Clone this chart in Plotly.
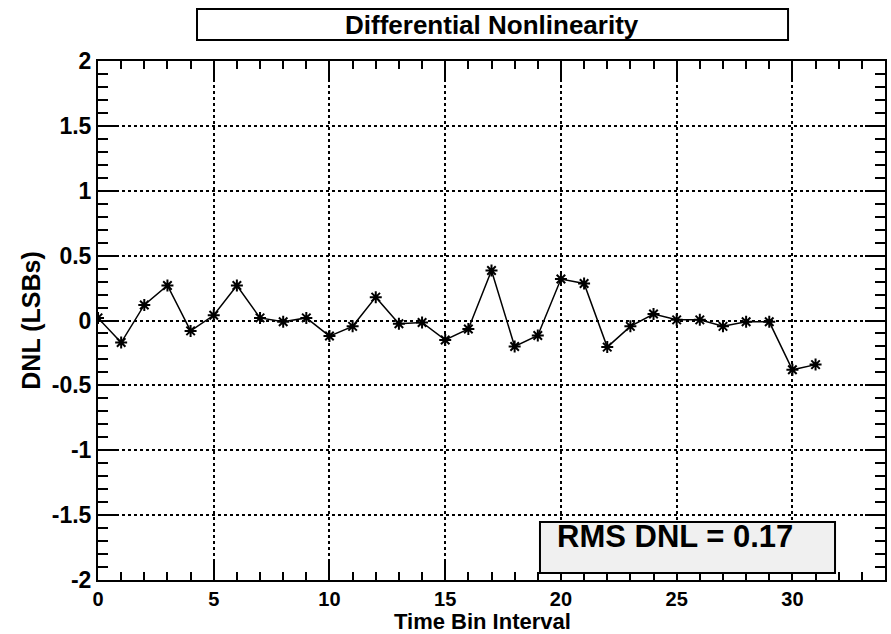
import plotly.graph_objects as go

bins = list(range(32))
dnl = [0.02, -0.17, 0.12, 0.27, -0.08, 0.04, 0.27, 0.02, -0.01, 0.02,
       -0.12, -0.045, 0.18, -0.025, -0.015, -0.15, -0.065, 0.385, -0.20, -0.115,
       0.32, 0.285, -0.205, -0.045, 0.05, 0.005, 0.005, -0.045, -0.01, -0.01,
       -0.38, -0.34]
x_ticks = [0, 5, 10, 15, 20, 25, 30]
y_ticks = [-2, -1.5, -1, -0.5, 0, 0.5, 1, 1.5, 2]
y_tick_labels = ["-2", "-1.5", "-1", "-0.5", "0", "0.5", "1", "1.5", "2"]
title_text = "Differential Nonlinearity"
rms_text = "RMS DNL = 0.17"
x_title = "Time Bin Interval"
y_title = "DNL (LSBs)"

FONT = "Liberation Sans, Arial, sans-serif"
NARROW = "Liberation Sans Narrow, Liberation Sans, Arial, sans-serif"

fig = go.Figure()
fig.add_trace(go.Scatter(
    x=bins, y=dnl, mode="lines+markers",
    line=dict(color="black", width=1.5),
    marker=dict(symbol="asterisk-open", size=10, color="black",
                line=dict(color="black", width=2)),
    showlegend=False,
))

axis_common = dict(
    showline=True, linecolor="black", linewidth=2, mirror="allticks",
    ticks="inside", tickcolor="black", tickwidth=2,
    showgrid=True, gridcolor="black", gridwidth=1.8, griddash="dot",
    zeroline=False, automargin=False,
)

fig.update_xaxes(
    range=[0, 34], tickmode="array", tickvals=x_ticks, ticklen=18,
    tickfont=dict(family=FONT, size=20, color="black", weight="bold"),
    minor=dict(dtick=1, tick0=0, ticklen=8, tickcolor="black", tickwidth=2, ticks="inside", showgrid=False),
    **axis_common,
)
fig.update_yaxes(
    range=[-2, 2], tickmode="array", tickvals=y_ticks, ticktext=y_tick_labels, ticklen=20,
    tickfont=dict(family=FONT, size=23, color="black", weight="bold"),
    minor=dict(dtick=0.1, tick0=0, ticklen=10, tickcolor="black", tickwidth=2, ticks="inside", showgrid=False),
    title=dict(text=y_title, font=dict(family=FONT, size=25, color="black", weight="bold"), standoff=4),
    **axis_common,
)

shapes = [
    dict(type="rect", xref="paper", yref="paper", x0=0.1258, x1=0.8768, y0=1.0405, y1=1.100,
         line=dict(color="black", width=2), fillcolor="white", layer="above"),
    dict(type="rect", xref="paper", yref="paper", x0=0.5616, x1=0.9365, y0=0.0135, y1=0.1118,
         line=dict(color="black", width=2), fillcolor="#f0f0f0", layer="above"),
]
annotations = [
    dict(text=title_text, xref="paper", yref="paper", x=0.5006, y=1.0703,
         xanchor="center", yanchor="middle", showarrow=False,
         font=dict(family=NARROW, size=26, color="black", weight="bold")),
    dict(text=rms_text, xref="paper", yref="paper", x=0.5812, y=0.083,
         xanchor="left", yanchor="middle", showarrow=False,
         font=dict(family=FONT, size=31, color="black", weight="bold")),
    dict(text=x_title, xref="paper", yref="paper", x=0.488, y=-0.0530,
         xanchor="center", yanchor="top", showarrow=False, borderpad=0,
         font=dict(family=FONT, size=22, color="black", weight="bold")),
]

fig.update_layout(
    width=891, height=634,
    margin=dict(l=98, r=6, t=61, b=54),
    paper_bgcolor="white", plot_bgcolor="white",
    shapes=shapes, annotations=annotations,
)

fig.write_html("out.html")
